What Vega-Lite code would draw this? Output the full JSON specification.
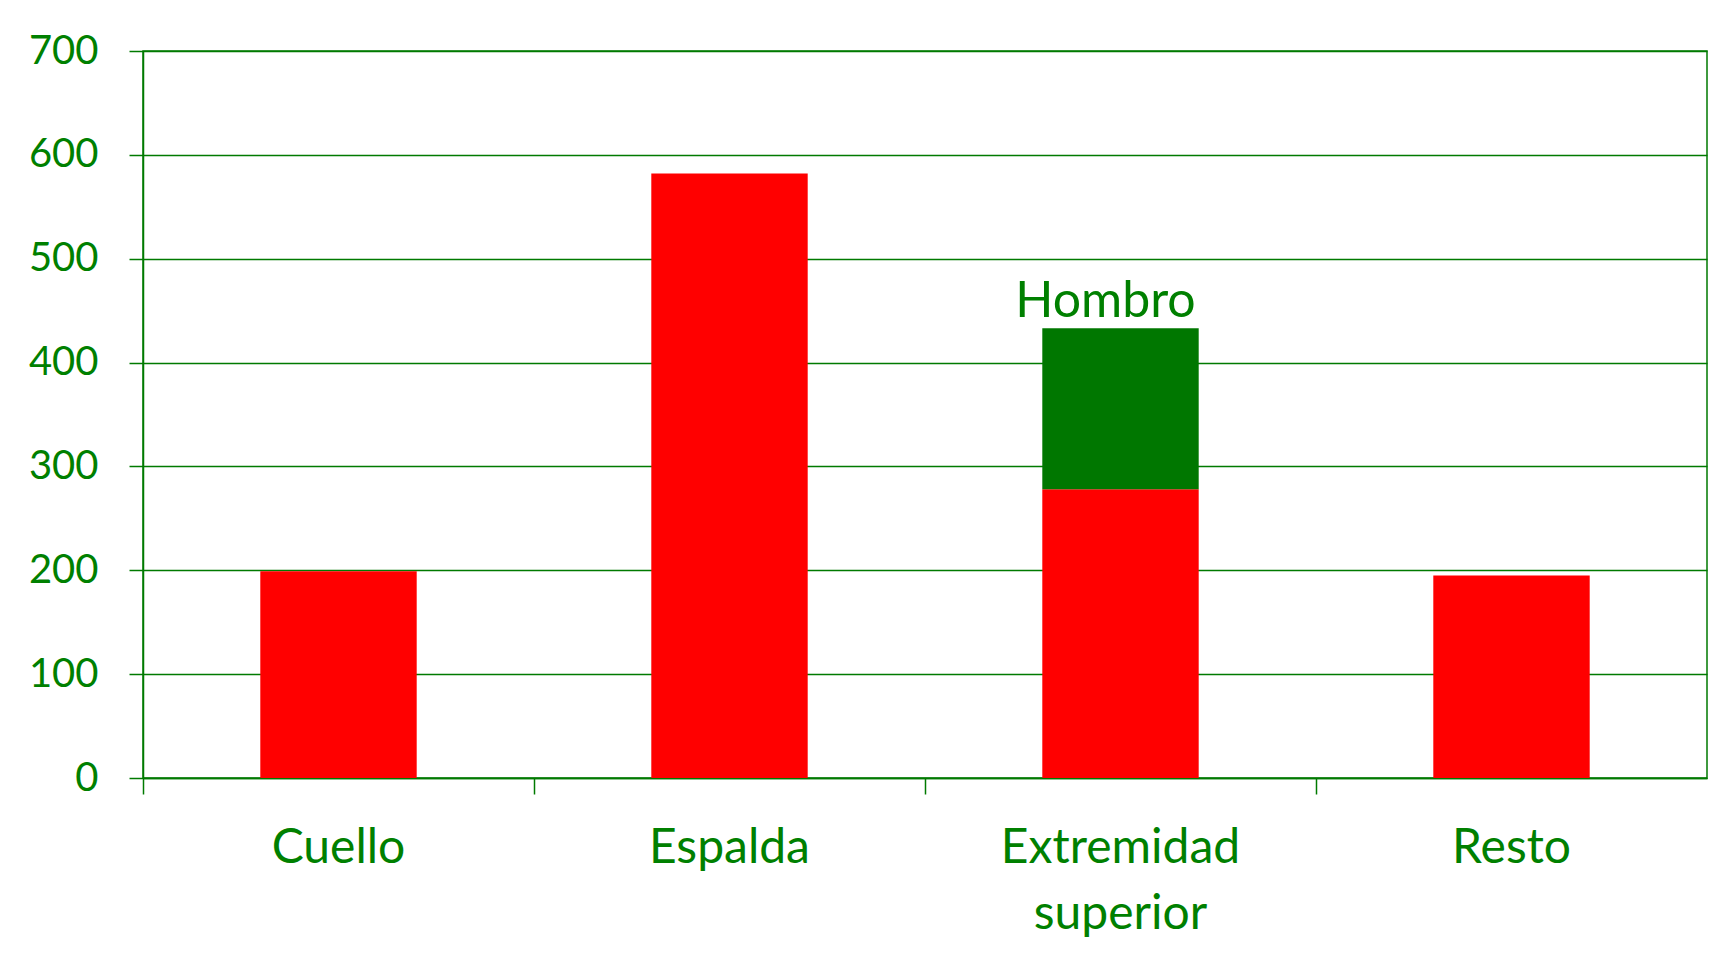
{
  "$schema": "https://vega.github.io/schema/vega-lite/v6.json",
  "width": 1564,
  "height": 727,
  "autosize": {"type": "none"},
  "padding": {"left": 143, "top": 51, "right": 16, "bottom": 178},
  "background": "white",
  "config": {
    "font": "Lato",
    "view": {"stroke": "#007A00", "strokeWidth": 1.5}
  },
  "data": {
    "values": [
      {"parte": "Cuello", "serie": "Resto", "valor": 199, "orden": 1},
      {"parte": "Espalda", "serie": "Resto", "valor": 582, "orden": 1},
      {"parte": "Extremidad superior", "serie": "Resto", "valor": 278, "orden": 1},
      {"parte": "Extremidad superior", "serie": "Hombro", "valor": 155, "orden": 2},
      {"parte": "Resto", "serie": "Resto", "valor": 195, "orden": 1}
    ]
  },
  "transform": [
    {"stack": "valor", "groupby": ["parte"], "sort": [{"field": "orden", "order": "ascending"}], "as": ["y0", "y1"]}
  ],
  "encoding": {
    "x": {
      "field": "parte",
      "type": "nominal",
      "sort": ["Cuello", "Espalda", "Extremidad superior", "Resto"],
      "scale": {"paddingInner": 0.6, "paddingOuter": 0.3},
      "axis": {
        "title": null,
        "labelAngle": 0,
        "labelFont": "Lato",
        "labelFontSize": 48,
        "labelColor": "#008000",
        "labelPadding": 30,
        "labelBaseline": "top",
        "labelLineHeight": 66,
        "labelLimit": 600,
        "labelExpr": "datum.value == 'Extremidad superior' ? ['Extremidad', 'superior'] : datum.value",
        "bandPosition": -0.75,
        "tickSize": 16,
        "tickColor": "#007A00",
        "tickWidth": 1.5,
        "domainColor": "#007A00",
        "domainWidth": 1.5,
        "grid": false
      }
    }
  },
  "layer": [
    {
      "mark": {"type": "bar"},
      "encoding": {
        "y": {
          "field": "y1",
          "type": "quantitative",
          "scale": {"domain": [0, 700], "nice": false},
          "axis": {
            "title": null,
            "values": [0, 100, 200, 300, 400, 500, 600, 700],
            "labelFont": "Lato",
            "labelFontSize": 40,
            "labelColor": "#008000",
            "labelPadding": 31,
            "tickSize": 14,
            "tickColor": "#007A00",
            "tickWidth": 1.5,
            "domainColor": "#007A00",
            "domainWidth": 1.5,
            "grid": true,
            "gridColor": "#007A00",
            "gridWidth": 1.5
          }
        },
        "y2": {"field": "y0"},
        "color": {
          "field": "serie",
          "type": "nominal",
          "scale": {"domain": ["Resto", "Hombro"], "range": ["#FF0000", "#007700"]},
          "legend": null
        }
      }
    },
    {
      "transform": [{"filter": "datum.serie == 'Hombro'"}],
      "mark": {"type": "text", "font": "Lato", "fontSize": 50, "color": "#008000", "align": "center", "baseline": "alphabetic", "dy": -11, "dx": -15},
      "encoding": {
        "y": {"field": "y1", "type": "quantitative"},
        "text": {"field": "serie"}
      }
    }
  ]
}
